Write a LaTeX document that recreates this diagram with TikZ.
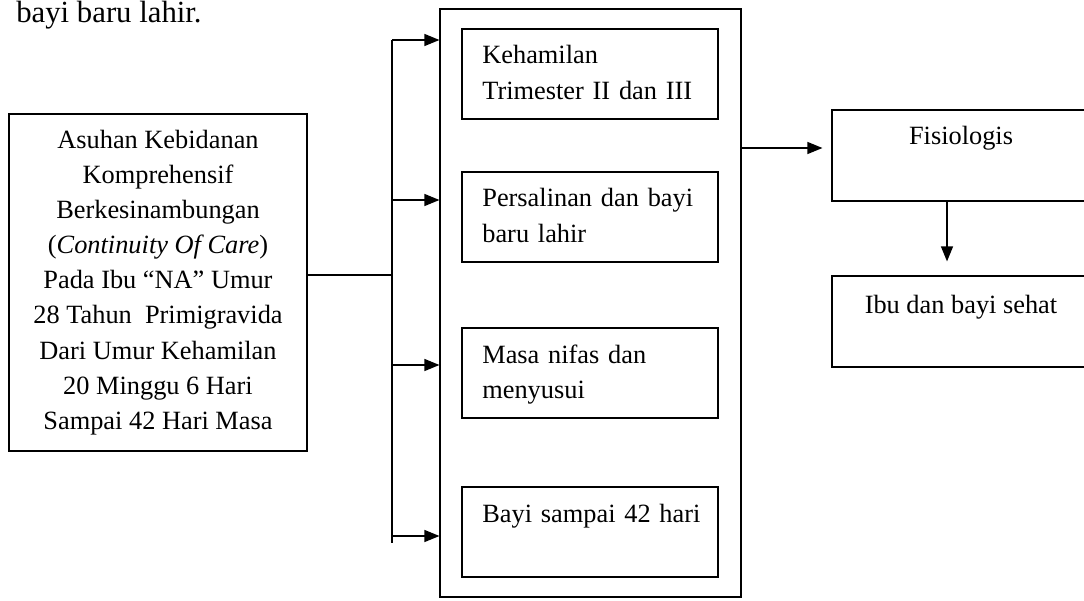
\documentclass[tikz,border=0pt]{standalone}
\usepackage{fontspec}
\setmainfont{Liberation Serif}
\usetikzlibrary{arrows.meta,positioning}

\tikzset{
  box/.style={draw, line width=0.7pt, inner sep=0pt},
  boxtext/.style={anchor=base west, align=left, inner sep=0pt, text width=4.6cm},
  link/.style={line width=0.7pt, -{Triangle[length=0.3cm,width=0.24cm]}},
  bus/.style={line width=0.7pt}
}

\begin{document}
\begin{tikzpicture}[x=0.02cm, y=-0.02cm, font=\fontsize{15}{20}\selectfont]
  \useasboundingbox (0,0) rectangle (1084,601);
  \node[anchor=base west, inner sep=0pt, font=\fontsize{17.5}{22}\selectfont] (intro) at (16,23) {bayi baru lahir.};

  % left box
  \node[box, minimum width=5.96cm, minimum height=6.74cm, align=center] (asuhan) at (158,282.5)
    {Asuhan Kebidanan\\ Komprehensif\\ Berkesinambungan\\ (\textit{Continuity Of Care})\\
     Pada Ibu ``NA'' Umur\\ 28 Tahun\ \ Primigravida\\ Dari Umur Kehamilan\\
     20 Minggu 6 Hari\\ Sampai 42 Hari Masa};

  % middle frame and its boxes
  \node[box, minimum width=6.02cm, minimum height=11.76cm] (frame) at (590.5,303) {};
  \node[box, minimum width=5.12cm, minimum height=1.8cm] (hamil) at (590,74) {};
  \node[box, minimum width=5.12cm, minimum height=1.8cm] (salin) at (590,217) {};
  \node[box, minimum width=5.12cm, minimum height=1.8cm] (nifas) at (590,373) {};
  \node[box, minimum width=5.12cm, minimum height=1.8cm] (bayi) at (590,532) {};
  \node[boxtext] (hamiltxt) at (482,64) {Kehamilan\\ Trimester II dan III};
  \node[boxtext] (salintxt) at (482,207) {Persalinan dan bayi\\ baru lahir};
  \node[boxtext] (nifastxt) at (482,363) {Masa nifas dan\\ menyusui};
  \node[boxtext] (bayitxt) at (482,522) {Bayi sampai 42 hari};

  % right boxes
  \node[box, minimum width=5.16cm, minimum height=1.82cm] (fisio) at (961,155.5) {};
  \node[box, minimum width=5.16cm, minimum height=1.82cm] (sehat) at (961,321.5) {};
  \node[anchor=base, inner sep=0pt] (fisiotxt) at (961,145) {Fisiologis};
  \node[anchor=base, inner sep=0pt] (sehattxt) at (961,313) {Ibu dan bayi sehat};

  % bus
  \coordinate (join) at (392,275);
  \coordinate (b1) at (392,40);
  \coordinate (b2) at (392,200);
  \coordinate (b3) at (392,365);
  \coordinate (b4) at (392,536);
  \coordinate (busend) at (392,543);
  \coordinate (outlvl) at (0,148);
  \coordinate (dnx) at (947,0);

  \draw[bus] (join -| asuhan.east) -- (join);
  \draw[bus] (b1) -- (busend);
  \foreach \b in {b1,b2,b3,b4}
    \draw[link] (\b) -- (\b -| frame.west);
  \draw[link, shorten >=0.18cm] (frame.east |- outlvl) -- (fisio.west |- outlvl);
  \draw[link, shorten >=0.28cm] (fisio.south -| dnx) -- (sehat.north -| dnx);
\end{tikzpicture}
\end{document}
